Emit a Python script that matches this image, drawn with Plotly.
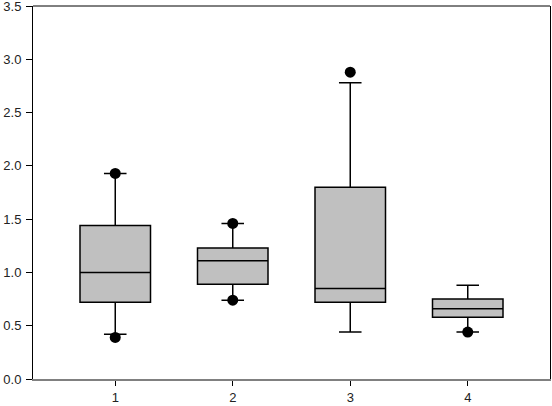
import plotly.graph_objects as go

groups = [1, 2, 3, 4]
q1 = [0.72, 0.89, 0.72, 0.58]
median = [1.00, 1.11, 0.85, 0.66]
q3 = [1.44, 1.23, 1.80, 0.75]
lower = [0.42, 0.74, 0.44, 0.44]
upper = [1.93, 1.46, 2.78, 0.88]

outlier_x = [1, 1, 2, 2, 3, 4]
outlier_y = [1.93, 0.39, 1.46, 0.74, 2.88, 0.44]

y_ticks = [0, 0.5, 1.0, 1.5, 2.0, 2.5, 3.0, 3.5]

fig = go.Figure()
fig.add_trace(go.Box(
    x=groups, q1=q1, median=median, q3=q3,
    lowerfence=lower, upperfence=upper,
    width=0.6, whiskerwidth=0.32,
    fillcolor="#c0c0c0", line=dict(color="black", width=1.5),
    boxpoints=False, showlegend=False, hoverinfo="skip",
))
fig.add_trace(go.Scatter(
    x=outlier_x, y=outlier_y, mode="markers",
    marker=dict(color="black", size=11), showlegend=False,
))

fig.update_layout(
    width=552, height=406,
    margin=dict(l=33, r=2, t=6, b=27),
    plot_bgcolor="white", paper_bgcolor="white",
    font=dict(family="Liberation Sans, Arial, sans-serif", size=13, color="#222"),
    xaxis=dict(range=[0.3, 4.7], tickvals=groups, ticktext=[str(g) for g in groups],
               showgrid=False, zeroline=False, showline=True, linecolor="#808080",
               linewidth=2, ticks="outside", ticklen=5, tickcolor="black",
               automargin=False),
    yaxis=dict(range=[0, 3.501], tickvals=y_ticks, tickformat=".1f",
               showgrid=False, zeroline=False, showline=True, mirror=True,
               linecolor="black", linewidth=1, ticks="outside", ticklen=6,
               tickcolor="black", ticklabelstandoff=2, ticklabeloverflow="allow",
               automargin=False),
    shapes=[dict(type="line", xref="paper", yref="paper", x0=0, x1=1, y0=1, y1=1,
                 line=dict(color="black", width=1))],
)

fig.write_html("out.html", config={"displayModeBar": False},
               post_script="document.body.style.margin='0';")
